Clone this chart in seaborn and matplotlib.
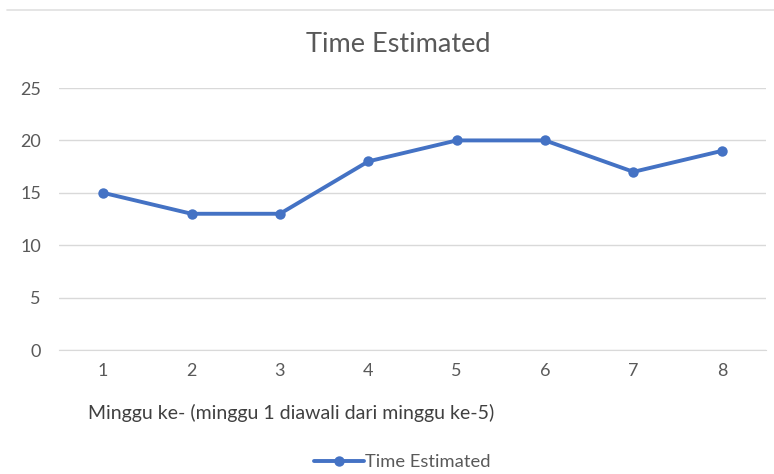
#!/usr/bin/env python3

import pandas as pd
import seaborn as sns
import matplotlib.pyplot as plt

weeks = [1, 2, 3, 4, 5, 6, 7, 8]
time_estimated = [15, 13, 13, 18, 20, 20, 17, 19]
y_ticks = [0, 5, 10, 15, 20, 25]

title = "Time Estimated"
series_name = "Time Estimated"
x_label = "Minggu ke- (minggu 1 diawali dari minggu ke-5)"

df = pd.DataFrame({"week": weeks, "value": time_estimated})

sns.set_style("white")
plt.rcParams["font.family"] = ["Lato", "DejaVu Sans"]

fig = plt.figure(figsize=(7.74, 4.74), dpi=100)
ax = fig.add_axes([0.0762, 0.2616, 0.9135, 0.5527])

sns.lineplot(data=df, x="week", y="value", ax=ax, color="#4472C4",
             linewidth=2.8, marker="o", markersize=7.5, markeredgewidth=0,
             label=series_name)

ax.set_xlim(0.5, 8.5)
ax.set_ylim(0, 25)
ax.set_xticks(weeks)
ax.set_yticks(y_ticks)
ax.grid(axis="y", color="#D9D9D9", linewidth=1)
ax.set_axisbelow(True)
for side in ["top", "right", "left"]:
    ax.spines[side].set_visible(False)
ax.spines["bottom"].set_color("#D9D9D9")
ax.tick_params(axis="both", length=0, labelsize=13, labelcolor="#595959")
ax.tick_params(axis="x", pad=9)
ax.tick_params(axis="y", pad=13)
ax.set_xlabel("")
ax.set_ylabel("")

fig.text(0.515, 0.907, title, ha="center", va="center", fontsize=19.5, color="#595959")
fig.text(0.1137, 0.128, x_label, ha="left", va="center", fontsize=14, color="#404040")

# light border line at the top like the source screenshot
fig.add_artist(plt.Line2D([0.009, 1.0], [0.979, 0.979], color="#E0E0E0", linewidth=1.2))

leg = ax.legend(loc="center", bbox_to_anchor=(0.52, 0.025), bbox_transform=fig.transFigure,
                frameon=False, fontsize=13.2, handlelength=2.7, handletextpad=0.1)
for t in leg.get_texts():
    t.set_color("#595959")

fig.savefig("out.png", dpi=100)
